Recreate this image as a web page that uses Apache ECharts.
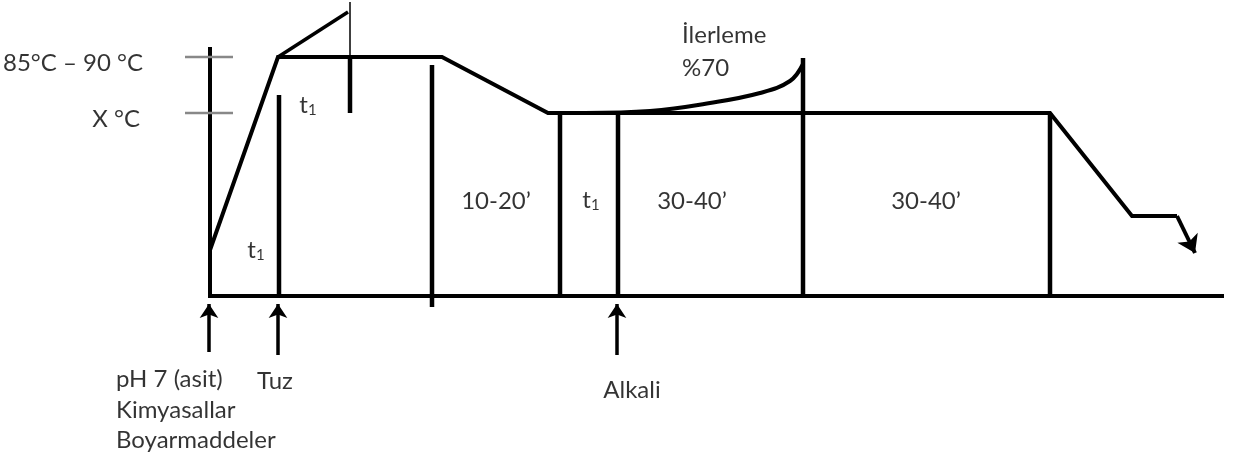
<!DOCTYPE html>
<html>
<head>
<meta charset="utf-8">
<script src="https://cdn.jsdelivr.net/npm/echarts@6.0.0/dist/echarts.min.js"></script>
<style>
  html, body { margin: 0; padding: 0; background: #fff; }
  #chart { width: 1233px; height: 459px; }
</style>
</head>
<body>
<div id="chart"></div>
<script>
// diagram units: x = time along the process, y = level measured from the top
var tickLabels = ['85°C – 90 °C', 'X °C'];
var tickLevels = [57, 113];

// temperature profile of the dyeing process
var profile = [[210, 250], [278, 57], [442, 57], [548, 113], [1050, 113], [1132, 216], [1177, 216], [1195, 253]];
var overshoot = [[278, 57], [348, 12]];
var progressCurve = [[585, 113], [650, 111], [710, 103], [760, 93], [790, 81], [803, 64]];

// step dividers: x, from, to
var dividers = [[279, 95, 296], [350, 57, 113], [432, 65, 307], [560, 113, 296], [618, 113, 296], [803, 58, 296], [1050, 113, 296]];
var thinMark = [[350, 2], [350, 57]];

var baseline = [[208, 296], [1224, 296]];
var yAxisLine = [[210, 47], [210, 296]];

// dosing arrows below the time axis
var dosingX = [209, 278, 617];
var dosingFrom = [352, 355, 355];

var stepLabels = [
    {text: '10-20’', x: 496, y: 201},
    {text: '30-40’', x: 692, y: 201},
    {text: '30-40’', x: 926, y: 201},
    {text: 'İlerleme', x: 682, y: 35, align: 'left'},
    {text: '%70', x: 682, y: 68, align: 'left'}
];
var t1Labels = [[308, 105], [256, 250], [591, 200]];
var dosingLabels = [
    {text: 'pH 7 (asit)', x: 116, y: 379, align: 'left'},
    {text: 'Kimyasallar', x: 116, y: 410, align: 'left'},
    {text: 'Boyarmaddeler', x: 116, y: 440, align: 'left'},
    {text: 'Tuz', x: 257, y: 381, align: 'left'},
    {text: 'Alkali', x: 632, y: 390}
];

var FONT = 'Lato';

function seg(coords, width, color) {
    return {
        type: 'lines',
        coordinateSystem: 'cartesian2d',
        polyline: true,
        silent: true,
        symbol: 'none',
        lineStyle: {color: color || '#000', width: width, opacity: 1, cap: 'butt', join: 'miter'},
        data: [{coords: coords}]
    };
}

function arrowSeg(coords, width, size) {
    var s = seg(coords, width);
    s.polyline = false;
    s.symbol = ['none', 'arrow'];
    s.symbolSize = size;
    s.itemStyle = {color: '#000'};
    return s;
}

function textItem(t) {
    return {
        value: [t.x, t.y],
        label: {
            show: true,
            position: [0, 0],
            formatter: t.text,
            align: t.align || 'center',
            verticalAlign: 'middle',
            fontFamily: FONT,
            fontSize: 24,
            color: '#000'
        }
    };
}

var chart = echarts.init(document.getElementById('chart'));

var series = [];
series.push(seg(baseline, 4));
series.push(seg(yAxisLine, 4));
tickLevels.forEach(function (lv) {
    series.push(seg([[185, lv], [233, lv]], 2.5, '#888'));
});
series.push(seg(overshoot, 3.5));
series.push(seg(thinMark, 1.5));
dividers.forEach(function (d) {
    series.push(seg([[d[0], d[1]], [d[0], d[2]]], 4.5));
});

// profile drawn as a polyline, last leg carries the arrow head
series.push(seg(profile.slice(0, profile.length - 1), 4));
series.push(arrowSeg(profile.slice(profile.length - 2), 4, 17));

series.push({
    type: 'line',
    silent: true,
    smooth: 0.4,
    symbol: 'none',
    lineStyle: {color: '#000', width: 4},
    data: progressCurve
});

dosingX.forEach(function (x, i) {
    series.push(arrowSeg([[x, dosingFrom[i]], [x, 304]], 3.5, 14));
});

var labelData = [];
tickLabels.forEach(function (t, i) {
    labelData.push(textItem({text: t, x: i === 0 ? 143 : 140, y: tickLevels[i] + 6, align: 'right'}));
});
stepLabels.concat(dosingLabels).forEach(function (t) {
    labelData.push(textItem(t));
});
t1Labels.forEach(function (p) {
    labelData.push({
        value: p,
        label: {
            show: true,
            position: [0, 0],
            formatter: '{a|t}{s|1}',
            align: 'center',
            verticalAlign: 'middle',
            rich: {
                a: {fontFamily: FONT, fontSize: 24, color: '#000'},
                s: {fontFamily: FONT, fontSize: 15, color: '#000', padding: [10, 0, 0, 0]}
            }
        }
    });
});

series.push({
    type: 'scatter',
    silent: true,
    symbolSize: 0,
    data: labelData
});

chart.setOption({
    animation: false,
    grid: {left: 0, right: 0, top: 0, bottom: 0},
    xAxis: {type: 'value', min: 0, max: 1233, show: false},
    yAxis: {type: 'value', min: 0, max: 459, inverse: true, show: false},
    series: series
});
</script>
</body>
</html>
